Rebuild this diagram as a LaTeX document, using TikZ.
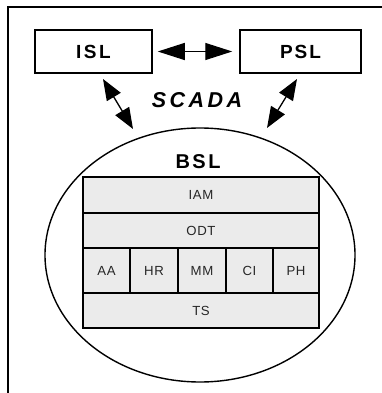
\documentclass[tikz,border=0pt]{standalone}
\usepackage{fontspec}
\setmainfont{Liberation Sans}
\usetikzlibrary{arrows.meta,shapes.geometric}
\tikzset{
  slbox/.style={draw, line width=1.5pt, minimum width=117pt, minimum height=43pt, inner sep=0pt,
    font=\bfseries\fontsize{19}{21}\selectfont},
  cell/.style={draw, line width=1.8pt, fill=black!8, inner sep=0pt, text=black!85,
    font=\fontsize{13.2}{15}\selectfont},
  dbl/.style={line width=1.3pt, {Triangle[length=21pt,width=16pt]}-{Triangle[length=21pt,width=16pt]}},
  hdbl/.style={line width=1.3pt, {Triangle[length=27pt,width=17pt]}-{Triangle[length=27pt,width=17pt]}},
}
\begin{document}
\begin{tikzpicture}[x=1pt,y=-1pt]
\useasboundingbox (0,0) rectangle (382,393);
% frame
\draw[line width=1.5pt] (8,393) -- (8,7) -- (382,7);
% ellipse
\node[draw, ellipse, line width=1.4pt, minimum width=310pt, minimum height=254pt, inner sep=0pt] (bsl) at (200,255) {};
\node[font=\bfseries\fontsize{20}{22}\selectfont] (bsllab) at (198,161.5) {B\kern2.5pt S\kern2.5pt L};
% top boxes
\node[slbox] (isl) at (93.5,51.5) {I\kern2.5pt S\kern2.5pt L};
\node[slbox, minimum width=121pt] (psl) at (300.5,51.5) {P\kern2pt S\kern2pt L};
\node[font=\bfseries\itshape\fontsize{21.5}{24}\selectfont] (scada) at (197,100) {S\kern3.5pt C\kern3.5pt A\kern3.5pt D\kern3.5pt A};
% table
\node[cell, minimum width=236pt, minimum height=36pt] (iam) at (201,195) {I\kern0.6pt A\kern0.6pt M};
\node[cell, minimum width=236pt, minimum height=35pt] (odt) at (201,230.5) {O\kern0.6pt D\kern0.6pt T};
\node[cell, minimum width=47pt, minimum height=45pt] (aa) at (106.5,270.5) {A\kern0.6pt A};
\node[cell, minimum width=48pt, minimum height=45pt] (hr) at (154,270.5) {H\kern0.6pt R};
\node[cell, minimum width=48pt, minimum height=45pt] (mm) at (202,270.5) {M\kern0.6pt M};
\node[cell, minimum width=47pt, minimum height=45pt] (ci) at (249.5,270.5) {C\kern0.6pt I};
\node[cell, minimum width=46pt, minimum height=45pt] (ph) at (296,270.5) {P\kern0.6pt H};
\node[cell, minimum width=236pt, minimum height=35pt] (ts) at (201,310.5) {T\kern0.6pt S};
% arrows
\coordinate (a1) at (103,79);
\coordinate (b1) at (133,129);
\coordinate (a2) at (297,79);
\coordinate (b2) at (267,128);
\draw[hdbl, shorten <=5pt, shorten >=7pt] (isl.east) -- (psl.west);
\draw[dbl] (a1) -- (b1);
\draw[dbl] (a2) -- (b2);
\end{tikzpicture}
\end{document}
